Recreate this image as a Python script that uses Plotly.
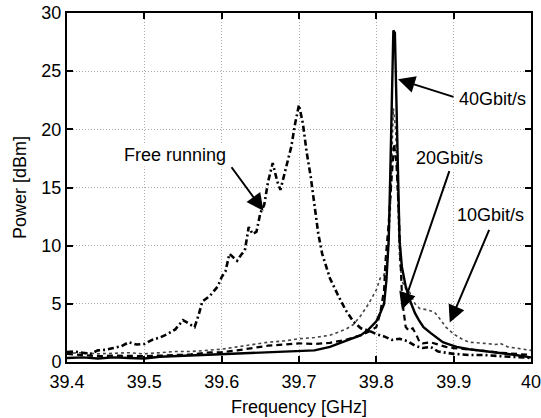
import plotly.graph_objects as go

# ---- data ----
free_f = [39.40, 39.41, 39.42, 39.43, 39.44, 39.45, 39.46, 39.47, 39.48, 39.49, 39.50, 39.51, 39.52,
          39.53, 39.54, 39.55, 39.56, 39.565, 39.57, 39.575, 39.585, 39.595, 39.60, 39.605, 39.61,
          39.615, 39.62, 39.625, 39.63, 39.635, 39.64, 39.645, 39.65, 39.655, 39.66, 39.666, 39.672,
          39.676, 39.68, 39.685, 39.69, 39.695, 39.70, 39.705, 39.71, 39.715, 39.72, 39.725, 39.73,
          39.74, 39.75, 39.76, 39.77, 39.78, 39.79, 39.80, 39.81, 39.82, 39.83, 39.84, 39.85, 39.86,
          39.87, 39.88, 39.89, 39.90, 39.92, 39.94, 39.96, 39.98, 40.0]
free_p = [0.85, 0.9, 0.8, 0.7, 1.0, 1.05, 1.2, 1.35, 1.7, 1.5, 1.55, 1.9, 2.1,
          2.4, 2.8, 3.6, 3.2, 3.0, 4.0, 5.2, 5.7, 6.5, 7.3, 7.8, 9.3,
          9.0, 8.7, 9.2, 9.6, 11.6, 11.0, 11.2, 12.8, 13.5, 15.5, 17.1, 15.5,
          14.8, 15.8, 17.0, 18.5, 20.5, 22.1, 20.5, 18.0, 16.0, 13.5, 11.0, 9.3,
          7.2, 5.8, 4.5, 3.5, 2.9, 2.7, 2.4, 2.2, 1.9, 2.0, 1.8, 1.4, 1.2,
          1.3, 0.9, 0.8, 0.7, 0.6, 0.6, 0.5, 0.4, 0.35]

g40_f = [39.40, 39.42, 39.44, 39.46, 39.48, 39.50, 39.52, 39.54, 39.56, 39.58, 39.60, 39.62, 39.64,
         39.66, 39.68, 39.70, 39.72, 39.74, 39.75, 39.76, 39.77, 39.78, 39.79, 39.80, 39.805, 39.81,
         39.813, 39.816, 39.818, 39.82, 39.822, 39.824, 39.826, 39.828, 39.83, 39.833, 39.838, 39.844,
         39.85, 39.855, 39.861, 39.87, 39.878, 39.886, 39.895, 39.904, 39.92, 39.94, 39.96, 39.98, 40.0]
g40_p = [0.35, 0.4, 0.3, 0.4, 0.35, 0.3, 0.45, 0.5, 0.55, 0.6, 0.65, 0.7, 0.75,
         0.8, 0.85, 0.95, 1.0, 1.3, 1.55, 1.75, 2.0, 2.3, 2.8, 3.5, 4.2, 5.0,
         7.0, 10.5, 16.0, 22.0, 28.5, 28.3, 22.0, 15.0, 10.5, 8.2, 6.5, 5.2,
         4.2, 3.6, 3.0, 2.5, 2.1, 1.7, 1.5, 1.3, 1.1, 0.95, 0.8, 0.6, 0.4]

g20_f = [39.40, 39.42, 39.44, 39.46, 39.48, 39.50, 39.52, 39.54, 39.56, 39.58, 39.60, 39.62, 39.64,
         39.66, 39.68, 39.70, 39.72, 39.74, 39.76, 39.78, 39.79, 39.795, 39.80, 39.805, 39.81, 39.812,
         39.816, 39.82, 39.823, 39.826, 39.829, 39.831, 39.833, 39.835, 39.838, 39.842, 39.847, 39.852,
         39.856, 39.86, 39.87, 39.88, 39.89, 39.90, 39.92, 39.94, 39.96, 39.98, 40.0]
g20_p = [0.7, 0.6, 0.5, 0.55, 0.5, 0.5, 0.55, 0.6, 0.65, 0.8, 0.85, 1.0, 1.2,
         1.4, 1.5, 1.6, 1.55, 1.65, 1.9, 2.3, 2.6, 2.8, 3.0, 4.2, 6.2, 8.8,
         12.0, 16.0, 18.8, 17.0, 13.0, 9.0, 6.0, 4.5, 3.0, 2.7, 2.9, 2.3,
         1.7, 1.6, 1.7, 1.5, 1.3, 1.2, 1.1, 0.95, 0.8, 0.7, 0.6]

g10_f = [39.40, 39.42, 39.44, 39.46, 39.48, 39.50, 39.52, 39.54, 39.56, 39.58, 39.60, 39.62, 39.64,
         39.66, 39.68, 39.70, 39.72, 39.74, 39.76, 39.77, 39.78, 39.79, 39.80, 39.805, 39.81, 39.815,
         39.818, 39.82, 39.822, 39.825, 39.828, 39.83, 39.833, 39.838, 39.843, 39.85, 39.856, 39.865,
         39.875, 39.88, 39.89, 39.90, 39.91, 39.92, 39.94, 39.955, 39.96, 39.97, 39.98, 40.0]
g10_p = [0.75, 0.8, 0.7, 0.75, 0.8, 0.7, 0.8, 0.9, 0.9, 1.0, 1.1, 1.3, 1.5,
         1.7, 1.8, 2.0, 2.1, 2.3, 2.8, 3.2, 4.0, 5.0, 6.2, 7.2, 7.5, 9.0,
         13.0, 18.0, 21.8, 20.0, 14.0, 9.0, 7.0, 6.3, 6.0, 5.0, 4.6, 4.5,
         4.3, 3.9, 3.0, 2.4, 2.0, 1.7, 1.6, 1.5, 1.6, 1.3, 1.2, 1.0]

x_ticks = [39.4, 39.5, 39.6, 39.7, 39.8, 39.9, 40.0]
x_tick_text = ["39.4", "39.5", "39.6", "39.7", "39.8", "39.9", "40"]
y_ticks = [0, 5, 10, 15, 20, 25, 30]

FONT = "Liberation Sans, Arial, sans-serif"

fig = go.Figure()
fig.add_trace(go.Scatter(x=g10_f, y=g10_p, mode="lines",
                         line=dict(color="#444", width=1.6, dash="dot"), name="10Gbit/s"))
fig.add_trace(go.Scatter(x=g20_f, y=g20_p, mode="lines",
                         line=dict(color="black", width=2.2, dash="6px,4px"), name="20Gbit/s"))
fig.add_trace(go.Scatter(x=free_f, y=free_p, mode="lines",
                         line=dict(color="black", width=2.6, dash="6px,3px,2px,3px"),
                         name="Free running"))
fig.add_trace(go.Scatter(x=g40_f, y=g40_p, mode="lines",
                         line=dict(color="black", width=2.4), name="40Gbit/s"))

# arrows (tip in data coords, tail offset in pixels)
arrows = [
    (39.654, 13.0, -33, -45),
    (39.828, 24.3, 57, 18),
    (39.833, 4.5, 48, -140),
    (39.895, 3.4, 40, -94),
]
for (xt, yt, ax, ay) in arrows:
    fig.add_annotation(x=xt, y=yt, ax=ax, ay=ay, text="", showarrow=True,
                       arrowhead=2, arrowsize=1.7, arrowwidth=2, arrowcolor="black")

labels = [
    (39.540, 17.8, "Free running"),
    (39.9496, 22.6, "40Gbit/s"),
    (39.894, 17.5, "20Gbit/s"),
    (39.947, 12.6, "10Gbit/s"),
]
for (xl, yl, t) in labels:
    fig.add_annotation(x=xl, y=yl, text=t, showarrow=False,
                       font=dict(family=FONT, size=18, color="black"),
                       bgcolor="white")

axis_common = dict(showline=True, linecolor="black", linewidth=2, mirror="allticks",
                   ticks="inside", ticklen=6, tickcolor="black", tickwidth=1.5,
                   showgrid=True, gridcolor="#aaa", griddash="1px,2px", gridwidth=1,
                   zeroline=False, automargin=False, ticklabeloverflow="allow",
                   tickfont=dict(family=FONT, size=18, color="black"))

fig.update_xaxes(range=[39.4, 40.0], tickvals=x_ticks, ticktext=x_tick_text,
                 ticklabelstandoff=2,
                 title=dict(text="Frequency [GHz]", font=dict(family=FONT, size=18, color="black"),
                            standoff=10),
                 **axis_common)
fig.update_yaxes(range=[0, 30], tickvals=y_ticks,
                 title=dict(text="Power [dBm]", font=dict(family=FONT, size=18, color="black"),
                            standoff=10),
                 **axis_common)

fig.update_layout(width=541, height=418, margin=dict(l=67, r=10, t=13, b=56),
                  paper_bgcolor="white", plot_bgcolor="white", showlegend=False)

fig.write_html("out.html")
